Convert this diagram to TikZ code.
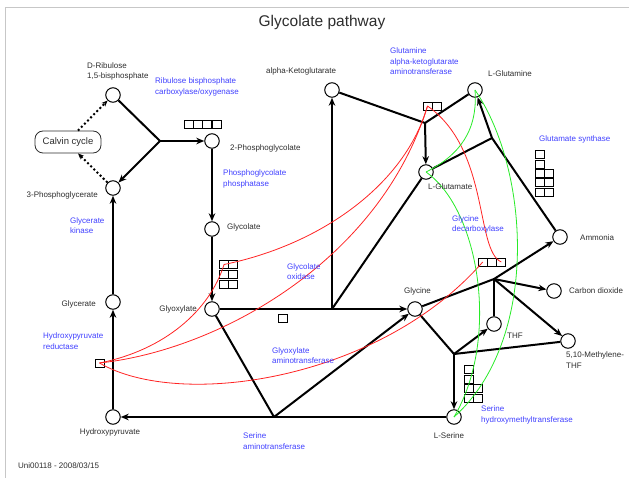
\documentclass[tikz,border=0pt]{standalone}
\usepackage{fontspec}
\setmainfont{Liberation Sans}
\usetikzlibrary{arrows.meta}

\definecolor{enzblue}{RGB}{64,64,255}
\definecolor{lbltext}{RGB}{45,45,45}
\definecolor{linkred}{RGB}{255,35,35}
\definecolor{linkgreen}{RGB}{40,235,40}

\tikzset{
  metab/.style={circle, draw, line width=1pt, fill=white, minimum size=14.5pt, inner sep=0pt},
  genebox/.style={draw, line width=0.7pt, fill=white, minimum width=9pt, minimum height=8pt, inner sep=0pt},
  rxn/.style={line width=2pt, line join=round},
  cyc/.style={line width=2pt, dash pattern=on 2pt off 2.4pt, -{Stealth[length=6pt,width=5pt]}},
  rlink/.style={linkred, line width=0.8pt},
  glink/.style={linkgreen, line width=0.8pt},
  lbl/.style={font=\fontsize{8}{10.5}\selectfont, text=lbltext, inner sep=0pt, align=left},
  enz/.style={font=\fontsize{8}{10.5}\selectfont, text=enzblue, inner sep=0pt, align=left, anchor=west}
}

\begin{document}
\begin{tikzpicture}[x=1pt, y=-1pt, >={Stealth[length=8pt,width=6.5pt]}]
    \useasboundingbox (0,0) rectangle (629,478);

    % Frame and title
    \draw[black!22, line width=1pt] (5,478) -- (5,8) -- (629,8);
    \node[font=\fontsize{15.5}{18}\selectfont, text=lbltext] (title) at (322,22) {Glycolate pathway};

    % Metabolites
    \node[metab] (rubp) at (113,95) {};
    \node[metab] (pga) at (113,188) {};
    \node[metab] (pglyc) at (212,141) {};
    \node[metab] (glyc) at (212,229) {};
    \node[metab] (glyox) at (212,309) {};
    \node[metab] (glyr) at (113,302) {};
    \node[metab] (hpyr) at (113,417) {};
    \node[metab] (akg) at (332,90) {};
    \node[metab] (gln) at (475,90) {};
    \node[metab] (glu) at (426,172) {};
    \node[metab] (nh3) at (560,237) {};
    \node[metab] (gly) at (415,309) {};
    \node[metab] (co2) at (554,291) {};
    \node[metab] (thf) at (494,324) {};
    \node[metab] (mthf) at (568,341) {};
    \node[metab] (ser) at (454,417) {};
    \node[draw=lbltext, line width=0.8pt, rounded corners=8pt, minimum width=66pt, minimum height=22pt,
          font=\fontsize{9.5}{11}\selectfont, text=lbltext] (calvin) at (68,142) {Calvin cycle};

    % Reaction branch points
    \coordinate (jrub) at (160,141);
    \coordinate (jgox) at (332,309);
    \coordinate (jgogat) at (425,123);
    \coordinate (jgs) at (492,138);
    \coordinate (jgdc) at (494,279);
    \coordinate (jshmt) at (454,354);
    \coordinate (jsgat) at (274,417);

    % Reactions
    \draw[rxn,->] (rubp) -- (jrub) -- (pga);
    \draw[rxn,->] (jrub) -- (pglyc);
    \draw[rxn,->] (pglyc) -- (glyc);
    \draw[rxn,->] (glyc) -- (glyox);
    \draw[rxn,->] (glyox) -- (gly);
    \draw[rxn,->] (jgox) -- (akg);
    \draw[rxn] (jgox) -- (glu);
    \draw[rxn] (akg) -- (jgogat) -- (gln);
    \draw[rxn,->] (jgogat) -- (glu);
    \draw[rxn] (glu) -- (jgs) -- (nh3);
    \draw[rxn,->] (jgs) -- (gln);
    \draw[rxn,->] (gly) -- (jgdc) -- (nh3);
    \draw[rxn,->] (jgdc) -- (co2);
    \draw[rxn] (jgdc) -- (thf);
    \draw[rxn,->] (jgdc) -- (mthf);
    \draw[rxn] (gly) -- (jshmt) -- (mthf);
    \draw[rxn,->] (jshmt) -- (thf);
    \draw[rxn,->] (jshmt) -- (ser);
    \draw[rxn,->] (ser) -- (hpyr);
    \draw[rxn,->] (glyox) -- (jsgat) -- (gly);
    \draw[rxn,->] (hpyr) -- (glyr);
    \draw[rxn,->] (glyr) -- (pga);
    \draw[cyc] ([xshift=10pt]calvin.north) -- (rubp);
    \draw[cyc] (pga) -- ([xshift=10pt]calvin.south);

    % Gene boxes
    \foreach \i/\x in {1/188.6, 2/197.9, 3/207.1, 4/216.4}
      \node[genebox] (rub\i) at (\x,124) {};
    \foreach \r/\y in {1/264.5, 2/274.5, 3/284}
      \foreach \c/\x in {1/224, 2/233}
        \node[genebox] (gox\r\c) at (\x,\y) {};
    \node[genebox] (ggat1) at (427.5,106) {};
    \node[genebox] (ggat2) at (436.5,106) {};
    \node[genebox] (gs1) at (540,154.5) {};
    \node[genebox] (gs2) at (540,164) {};
    \foreach \r/\y in {3/173.3, 4/182.6, 5/192}
      \foreach \c/\x in {1/540, 2/549.3}
        \node[genebox] (gs\r\c) at (\x,\y) {};
    \foreach \i/\x in {1/482.7, 2/492, 3/501.3}
      \node[genebox] (gdc\i) at (\x,262) {};
    \node[genebox] (sgat) at (282.5,318) {};
    \node[genebox] (shmt1) at (468.8,369.3) {};
    \node[genebox] (shmt2) at (468.8,379) {};
    \foreach \r/\y in {3/388.7, 4/398.3}
      \foreach \c/\x in {1/468.8, 2/478}
        \node[genebox] (shmt\r\c) at (\x,\y) {};
    \node[genebox] (hpr) at (99.5,363) {};

    % Red links between gene boxes
    \draw[rlink] (hpr.center) .. controls (165,350) and (210,310) .. (gox11.center);
    \draw[rlink] (gox11.center) .. controls (320,245) and (405,185) .. (ggat1.center);
    \draw[rlink] (hpr.center) .. controls (220,350) and (380,260) .. (ggat1.center);
    \draw[rlink] (hpr.center) .. controls (180,410) and (380,380) .. (gdc1.center);
    \draw[rlink] (ggat1.center) .. controls (490,150) and (475,250) .. (gdc3.center);

    % Green links between metabolites
    \draw[glink] (glu.center) .. controls (460,155) and (478,130) .. (gln.center);
    \draw[glink] (glu.center) .. controls (480,210) and (500,340) .. (ser.center);
    \draw[glink] (gln.center) .. controls (530,170) and (540,340) .. (ser.center);

    % Metabolite labels
    \node[lbl, anchor=west] (rubp-l) at (87,71.5) {D-Ribulose\\1,5-bisphosphate};
    \node[lbl, anchor=east] (pga-l) at (98,195) {3-Phosphoglycerate};
    \node[lbl, anchor=west] (pglyc-l) at (230,148) {2-Phosphoglycolate};
    \node[lbl, anchor=west] (glyc-l) at (227,227) {Glycolate};
    \node[lbl, anchor=east] (glyox-l) at (197,309) {Glyoxylate};
    \node[lbl, anchor=east] (glyr-l) at (96,304) {Glycerate};
    \node[lbl] (hpyr-l) at (110,432) {Hydroxypyruvate};
    \node[lbl, anchor=west] (akg-l) at (266,71) {alpha-Ketoglutarate};
    \node[lbl, anchor=west] (gln-l) at (488,74) {L-Glutamine};
    \node[lbl, anchor=west] (glu-l) at (428,187) {L-Glutamate};
    \node[lbl, anchor=west] (nh3-l) at (580,238) {Ammonia};
    \node[lbl, anchor=west] (gly-l) at (404,291) {Glycine};
    \node[lbl, anchor=west] (co2-l) at (569,291) {Carbon dioxide};
    \node[lbl, anchor=west] (thf-l) at (507,336) {THF};
    \node[lbl, anchor=west] (mthf-l) at (566,360) {5,10-Methylene-\\THF};
    \node[lbl] (ser-l) at (449,436) {L-Serine};

    % Enzyme labels
    \node[enz] (rubisco-l) at (155,87) {Ribulose bisphosphate\\carboxylase/oxygenase};
    \node[enz] (pglp-l) at (223,179) {Phosphoglycolate\\phosphatase};
    \node[enz] (glyk-l) at (70,225.5) {Glycerate\\kinase};
    \node[enz] (hpr-l) at (43,341) {Hydroxypyruvate\\reductase};
    \node[enz] (gox-l) at (287,271.5) {Glycolate\\oxidase};
    \node[enz] (ggt-l) at (272,355.5) {Glyoxylate\\aminotransferase};
    \node[enz] (sgat-l) at (243,441) {Serine\\aminotransferase};
    \node[enz] (ggat-l) at (390,61.5) {Glutamine\\alpha-ketoglutarate\\aminotransferase};
    \node[enz] (gs-l) at (539,139) {Glutamate synthase};
    \node[enz] (gdc-l) at (452,224.5) {Glycine\\decarboxylase};
    \node[enz] (shmt-l) at (481,415) {Serine\\hydroxymethyltransferase};

    % Footer
    \node[lbl, anchor=west] (date) at (18,466) {Uni00118 - 2008/03/15};
\end{tikzpicture}
\end{document}
